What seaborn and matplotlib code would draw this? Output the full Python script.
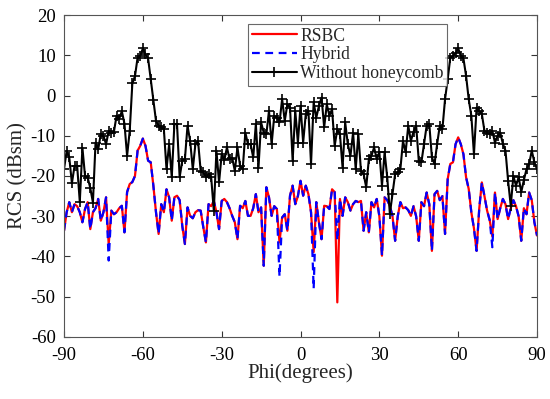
import numpy as np
import pandas as pd
import matplotlib
matplotlib.use("Agg")
import matplotlib.pyplot as plt
import seaborn as sns

# observation angle, degrees (1 degree step)
phi = np.arange(-90, 91, 1)

without_honeycomb = [
    -18.3, -13.8, -15.4, -21.8, -17.5, -17.5, -26.4, -13.0, -20.0, -20.4,
    -23.0, -26.6, -11.7, -13.4, -9.5, -10.0, -12.1, -8.8, -9.4, -9.0,
    -5.0, -5.8, -3.9, -7.0, -15.0, -8.8, 3.0, 4.8, 9.4, 9.8,
    11.7, 10.2, 9.2, 4.0, -1.0, -6.3, -7.5, -7.9, -8.4, -18.3,
    -12.1, -20.3, -7.1, -7.1, -20.3, -16.2, -15.8, -7.5, -11.3, -18.3,
    -12.1, -11.3, -18.7, -19.1, -20.3, -19.5, -20.3, -28.6, -13.7, -21.6,
    -14.6, -16.1, -12.9, -15.8, -15.5, -18.7, -12.9, -17.5, -18.3, -9.2,
    -12.1, -12.1, -15.4, -7.1, -17.9, -6.7, -9.2, -9.6, -3.8, -12.1,
    -5.1, -5.5, -6.7, -0.9, -6.3, -2.2, -3.0, -16.2, -3.8, -11.7,
    -2.6, -11.7, -4.6, -3.8, -17.0, -1.7, -5.5, -2.6, -0.5, -7.9,
    -2.2, -5.0, -3.4, -12.5, -8.4, -9.6, -17.9, -6.7, -12.1, -15.0,
    -9.2, -18.3, -9.6, -18.7, -19.5, -22.8, -15.8, -15.0, -12.9, -15.8,
    -14.1, -22.4, -14.1, -20.3, -29.4, -24.5, -19.5, -19.1, -18.3, -11.3,
    -14.1, -7.5, -11.3, -9.0, -7.5, -16.2, -16.6, -12.0, -7.5, -7.1,
    -15.4, -17.0, -12.0, -7.5, -8.3, -0.9, 4.0, 9.4, 9.8, 10.5,
    11.7, 9.8, 9.2, 4.9, -0.9, -5.0, -14.6, -3.0, -3.8, -4.6,
    -8.8, -9.2, -9.6, -8.8, -11.7, -10.0, -9.2, -12.0, -13.7, -21.2,
    -27.4, -20.0, -22.4, -20.3, -24.0, -21.0, -18.3, -17.0, -13.7, -16.6, -18.3,
]

rsbc = [
    -33.6, -29.0, -26.5, -29.0, -27.0, -27.5, -29.0, -31.5, -28.2, -26.5,
    -33.2, -29.0, -28.0, -25.7, -31.1, -29.0, -25.3, -37.0, -28.6, -29.5,
    -29.0, -28.0, -27.4, -34.0, -24.0, -22.0, -21.5, -20.0, -13.7, -12.5,
    -10.7, -12.5, -16.2, -16.6, -22.4, -29.0, -34.4, -27.0, -29.0, -23.3,
    -25.3, -31.1, -25.3, -24.9, -26.0, -32.4, -36.9, -27.8, -29.9, -30.5,
    -29.0, -28.5, -28.6, -32.7, -36.5, -27.0, -27.5, -26.2, -29.0, -33.2,
    -26.2, -25.7, -26.5, -28.0, -29.9, -31.5, -35.7, -27.4, -28.0, -26.2,
    -29.9, -29.9, -28.0, -24.5, -29.0, -27.8, -42.3, -22.8, -25.3, -29.9,
    -27.5, -28.2, -36.5, -30.3, -29.5, -33.6, -24.9, -22.4, -27.0, -25.0,
    -21.2, -24.9, -22.4, -24.5, -29.0, -38.9, -26.5, -31.5, -35.7, -27.4,
    -27.5, -28.2, -23.3, -24.0, -51.4, -25.7, -29.9, -25.3, -26.5, -28.6,
    -27.0, -26.2, -26.5, -26.2, -33.6, -29.0, -34.0, -26.5, -27.8, -25.7,
    -30.0, -39.8, -25.3, -26.0, -27.4, -30.0, -36.1, -30.0, -26.5, -28.0,
    -27.8, -28.5, -29.9, -27.5, -30.0, -36.1, -26.5, -27.5, -24.1, -27.0,
    -38.6, -24.5, -23.7, -26.0, -25.0, -34.4, -20.8, -17.0, -16.6, -12.1,
    -10.4, -12.1, -14.6, -20.3, -23.2, -29.0, -33.0, -38.6, -28.2, -21.6,
    -25.0, -28.6, -31.0, -35.0, -24.1, -30.7, -28.0, -25.7, -27.0, -30.7,
    -28.0, -26.0, -27.5, -30.0, -36.1, -28.0, -29.5, -24.1, -26.0, -31.5, -34.8,
]

# Hybrid follows RSBC except at a few angles
hybrid_diff = {-73: -41.0, -8: -45.0, 5: -48.0, 14: -36.0, 73: -37.7}

x_ticks = [-90, -60, -30, 0, 30, 60, 90]
y_ticks = [-60, -50, -40, -30, -20, -10, 0, 10, 20]

df = pd.DataFrame({"phi": phi, "RSBC": rsbc, "Without honeycomb": without_honeycomb})
df["Hybrid"] = df["RSBC"]
for ang, val in hybrid_diff.items():
    df.loc[df["phi"] == ang, "Hybrid"] = val

sns.set_style("ticks")
plt.rcParams["font.family"] = ["Liberation Serif", "DejaVu Serif"]
plt.rcParams["axes.linewidth"] = 0.8
plt.rcParams["axes.unicode_minus"] = False

fig = plt.figure(figsize=(5.5, 3.99), dpi=100)
ax = fig.add_axes([0.1164, 0.1554, 0.8600, 0.8070])

sns.lineplot(data=df, x="phi", y="RSBC", ax=ax, color="red", lw=1.6,
             label="RSBC")
sns.lineplot(data=df, x="phi", y="Hybrid", ax=ax, color="blue", lw=1.6,
             linestyle=(0, (3.5, 2.5)), label="Hybrid")
sns.lineplot(data=df, x="phi", y="Without honeycomb", ax=ax, color="black",
             lw=1.5, marker="+", markersize=7, markeredgewidth=1.2,
             markeredgecolor="black", label="Without honeycomb")

ax.set_xlim(-90, 90)
ax.set_ylim(-60, 20)
ax.set_xticks(x_ticks)
ax.set_yticks(y_ticks)
ax.tick_params(direction="in", top=True, right=True, length=4, width=0.8,
               labelsize=13.5, colors="#333333", labelcolor="black")
ax.tick_params(axis="x", pad=7)
ax.tick_params(axis="y", pad=6)
for s in ax.spines.values():
    s.set_color("#555555")
    s.set_visible(True)
ax.set_xlabel("Phi(degrees)", fontsize=15, labelpad=0)
ax.set_ylabel("RCS (dBsm)", fontsize=15, labelpad=2)

leg = ax.legend(loc="upper left", bbox_to_anchor=(0.389, 0.972), fontsize=12.7,
                frameon=True, fancybox=False, edgecolor="#444444",
                borderpad=0.2, labelspacing=0.1, handlelength=2.6,
                handletextpad=0.15, borderaxespad=0)
leg.get_frame().set_linewidth(0.8)

fig.savefig("out.png", dpi=100)
